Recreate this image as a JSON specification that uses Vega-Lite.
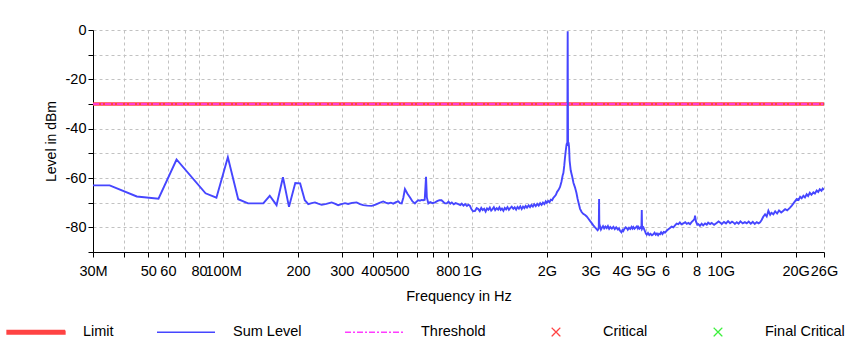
{
  "$schema": "https://vega.github.io/schema/vega-lite/v6.json",
  "width": 731,
  "height": 222,
  "autosize": {"type": "none"},
  "padding": {"left": 93, "top": 30, "right": 23, "bottom": 92},
  "background": "white",
  "config": {
    "view": {"stroke": null},
    "font": "Liberation Sans",
    "axis": {
      "domainColor": "black",
      "tickColor": "black",
      "labelColor": "black",
      "titleColor": "black",
      "labelFontSize": 14.5,
      "titleFontSize": 14.5,
      "titleFontWeight": "normal",
      "grid": true,
      "gridColor": "#c2c2c2",
      "gridDash": [3, 3],
      "gridWidth": 1,
      "tickSize": 5,
      "labelOverlap": false,
      "labelFlush": false,
      "labelBound": false
    }
  },
  "datasets": {
    "limit": [{"f": 30, "v": -30}, {"f": 26000, "v": -30}],
    "threshold": [{"f": 30, "v": -30}, {"f": 26000, "v": -30}],
    "sum": [
      {"f": 30, "v": -63}, {"f": 35, "v": -63}, {"f": 45, "v": -67.5}, {"f": 55, "v": -68.4},
      {"f": 65, "v": -52.5}, {"f": 85, "v": -66.2}, {"f": 94, "v": -68}, {"f": 104.5, "v": -51.6},
      {"f": 115, "v": -68.6}, {"f": 126, "v": -70.3}, {"f": 145, "v": -70.3}, {"f": 154, "v": -67.2},
      {"f": 164, "v": -71}, {"f": 174, "v": -59.7}, {"f": 184, "v": -71.7}, {"f": 195, "v": -62},
      {"f": 204, "v": -62.2}, {"f": 213, "v": -69}, {"f": 220, "v": -70.6}, {"f": 227, "v": -70.2},
      {"f": 234, "v": -69.9}, {"f": 241, "v": -70.4}, {"f": 249, "v": -70.9}, {"f": 260, "v": -70.5},
      {"f": 273, "v": -69.9}, {"f": 281, "v": -70.4}, {"f": 290, "v": -71}, {"f": 299, "v": -70.6},
      {"f": 309, "v": -70.2}, {"f": 318, "v": -70.5}, {"f": 330, "v": -70.1}, {"f": 344, "v": -69.9},
      {"f": 355, "v": -70.6}, {"f": 366, "v": -71}, {"f": 380, "v": -71.2}, {"f": 396, "v": -71.3},
      {"f": 410, "v": -70.8}, {"f": 425, "v": -70.1}, {"f": 440, "v": -69.5}, {"f": 450, "v": -70.0},
      {"f": 461, "v": -70.3}, {"f": 472, "v": -70.0}, {"f": 483, "v": -70.4}, {"f": 495, "v": -69.8},
      {"f": 506, "v": -69.5}, {"f": 514, "v": -70.2}, {"f": 522, "v": -70.3}, {"f": 530, "v": -68.0},
      {"f": 538, "v": -64.5}, {"f": 550, "v": -66.3}, {"f": 564, "v": -67.9}, {"f": 577, "v": -69.5},
      {"f": 590, "v": -70.3}, {"f": 600, "v": -69.5}, {"f": 609, "v": -69.0}, {"f": 618, "v": -69.2},
      {"f": 628, "v": -68.9}, {"f": 638, "v": -69.0}, {"f": 646, "v": -68.8}, {"f": 654, "v": -59.5},
      {"f": 659, "v": -67.9}, {"f": 668, "v": -70.3}, {"f": 680, "v": -69.8}, {"f": 695, "v": -70.2},
      {"f": 711, "v": -69.9}, {"f": 725, "v": -69.4}, {"f": 740, "v": -69.0}, {"f": 755, "v": -69.0},
      {"f": 770, "v": -69.8}, {"f": 780, "v": -70.3}, {"f": 792, "v": -70.3}, {"f": 805, "v": -69.6},
      {"f": 818, "v": -70.4}, {"f": 830, "v": -69.9}, {"f": 845, "v": -70.7}, {"f": 860, "v": -70.2},
      {"f": 882, "v": -70.6}, {"f": 898, "v": -71.0}, {"f": 910, "v": -70.4}, {"f": 925, "v": -71.2},
      {"f": 939, "v": -70.6}, {"f": 955, "v": -71.3}, {"f": 968, "v": -70.8}, {"f": 982, "v": -71.3},
      {"f": 995, "v": -72.6}, {"f": 1010, "v": -73.5}, {"f": 1030, "v": -73.3}, {"f": 1045, "v": -72.2},
      {"f": 1061, "v": -72.6}, {"f": 1075, "v": -73.4}, {"f": 1090, "v": -72.1}, {"f": 1105, "v": -73.0},
      {"f": 1120, "v": -72.5}, {"f": 1135, "v": -73.6}, {"f": 1150, "v": -72.3}, {"f": 1165, "v": -72.9},
      {"f": 1180, "v": -72.0}, {"f": 1195, "v": -73.2}, {"f": 1210, "v": -72.6}, {"f": 1225, "v": -71.8},
      {"f": 1240, "v": -73.0}, {"f": 1258, "v": -72.2}, {"f": 1275, "v": -72.8}, {"f": 1290, "v": -71.9},
      {"f": 1305, "v": -72.9}, {"f": 1320, "v": -72.4}, {"f": 1338, "v": -73.3}, {"f": 1355, "v": -72.1},
      {"f": 1372, "v": -72.7}, {"f": 1390, "v": -71.8}, {"f": 1408, "v": -72.9}, {"f": 1425, "v": -72.2},
      {"f": 1445, "v": -71.6}, {"f": 1467, "v": -72.5}, {"f": 1485, "v": -71.9}, {"f": 1505, "v": -72.8},
      {"f": 1525, "v": -71.7}, {"f": 1545, "v": -72.4}, {"f": 1565, "v": -71.5}, {"f": 1585, "v": -72.6},
      {"f": 1605, "v": -71.6}, {"f": 1625, "v": -72.2}, {"f": 1645, "v": -71.3}, {"f": 1665, "v": -72.0},
      {"f": 1690, "v": -71.1}, {"f": 1712, "v": -71.8}, {"f": 1735, "v": -70.9}, {"f": 1758, "v": -71.6},
      {"f": 1780, "v": -70.6}, {"f": 1805, "v": -71.4}, {"f": 1830, "v": -70.5}, {"f": 1855, "v": -71.2},
      {"f": 1880, "v": -70.2}, {"f": 1905, "v": -70.9}, {"f": 1930, "v": -70.0}, {"f": 1955, "v": -70.6},
      {"f": 1980, "v": -69.5}, {"f": 2000, "v": -70.1}, {"f": 2025, "v": -69.3}, {"f": 2050, "v": -69.8},
      {"f": 2075, "v": -68.8}, {"f": 2100, "v": -69.0}, {"f": 2125, "v": -68.0}, {"f": 2150, "v": -67.5},
      {"f": 2175, "v": -66.8}, {"f": 2200, "v": -65.6}, {"f": 2230, "v": -64.8}, {"f": 2260, "v": -63.6},
      {"f": 2290, "v": -61.5}, {"f": 2315, "v": -59.0}, {"f": 2331, "v": -58.0}, {"f": 2350, "v": -55.0},
      {"f": 2365, "v": -52.0}, {"f": 2383, "v": -48.9}, {"f": 2400, "v": -46.5}, {"f": 2410, "v": -45.8},
      {"f": 2418, "v": -47.0}, {"f": 2422, "v": -20}, {"f": 2426, "v": -0.5}, {"f": 2430, "v": -25},
      {"f": 2434, "v": -46.2}, {"f": 2445, "v": -45.5}, {"f": 2457, "v": -47.5}, {"f": 2470, "v": -53.0},
      {"f": 2495, "v": -57.0}, {"f": 2530, "v": -59.5}, {"f": 2560, "v": -62.0}, {"f": 2595, "v": -63.8},
      {"f": 2630, "v": -66.0}, {"f": 2660, "v": -68.5}, {"f": 2690, "v": -70.5}, {"f": 2720, "v": -72.5},
      {"f": 2760, "v": -73.8}, {"f": 2800, "v": -74.5}, {"f": 2850, "v": -75.0}, {"f": 2893, "v": -75.6},
      {"f": 2940, "v": -76.5}, {"f": 2983, "v": -77.4}, {"f": 3030, "v": -78.3}, {"f": 3075, "v": -79.2},
      {"f": 3125, "v": -80.0}, {"f": 3165, "v": -80.6}, {"f": 3200, "v": -81.2}, {"f": 3222, "v": -80.8},
      {"f": 3235, "v": -80.3}, {"f": 3244, "v": -68.5}, {"f": 3252, "v": -80.2}, {"f": 3273, "v": -79.6},
      {"f": 3300, "v": -80.9}, {"f": 3330, "v": -80.2}, {"f": 3365, "v": -79.5}, {"f": 3400, "v": -80.4},
      {"f": 3440, "v": -79.7}, {"f": 3481, "v": -80.3}, {"f": 3520, "v": -79.5}, {"f": 3560, "v": -80.6},
      {"f": 3600, "v": -79.9}, {"f": 3650, "v": -80.5}, {"f": 3702, "v": -79.8}, {"f": 3750, "v": -80.7},
      {"f": 3800, "v": -80.0}, {"f": 3860, "v": -80.9}, {"f": 3900, "v": -80.4}, {"f": 3939, "v": -81.4},
      {"f": 3990, "v": -82.0}, {"f": 4030, "v": -81.1}, {"f": 4059, "v": -81.5}, {"f": 4100, "v": -80.6},
      {"f": 4150, "v": -80.0}, {"f": 4188, "v": -80.3}, {"f": 4230, "v": -81.0}, {"f": 4280, "v": -80.2},
      {"f": 4330, "v": -80.7}, {"f": 4380, "v": -79.8}, {"f": 4420, "v": -80.5}, {"f": 4455, "v": -79.9},
      {"f": 4500, "v": -80.6}, {"f": 4550, "v": -80.1}, {"f": 4600, "v": -79.6}, {"f": 4640, "v": -80.4},
      {"f": 4665, "v": -79.8}, {"f": 4720, "v": -80.5}, {"f": 4770, "v": -79.9}, {"f": 4800, "v": -80.3},
      {"f": 4815, "v": -73.0}, {"f": 4830, "v": -80.6}, {"f": 4860, "v": -80.2}, {"f": 4887, "v": -80.0},
      {"f": 4930, "v": -80.9}, {"f": 4970, "v": -81.8}, {"f": 5000, "v": -82.5}, {"f": 5043, "v": -83.0},
      {"f": 5100, "v": -82.3}, {"f": 5160, "v": -83.1}, {"f": 5220, "v": -82.6}, {"f": 5290, "v": -83.2},
      {"f": 5359, "v": -82.8}, {"f": 5420, "v": -82.2}, {"f": 5480, "v": -83.0}, {"f": 5540, "v": -82.5},
      {"f": 5600, "v": -83.2}, {"f": 5650, "v": -82.6}, {"f": 5703, "v": -82.8}, {"f": 5760, "v": -82.0},
      {"f": 5830, "v": -82.7}, {"f": 5900, "v": -81.9}, {"f": 5973, "v": -82.1}, {"f": 6060, "v": -81.4},
      {"f": 6159, "v": -80.8}, {"f": 6250, "v": -80.3}, {"f": 6350, "v": -79.7}, {"f": 6451, "v": -80.0},
      {"f": 6550, "v": -79.2}, {"f": 6650, "v": -78.5}, {"f": 6756, "v": -78.7}, {"f": 6850, "v": -78.0},
      {"f": 6950, "v": -78.8}, {"f": 7076, "v": -78.4}, {"f": 7200, "v": -77.9}, {"f": 7300, "v": -78.6},
      {"f": 7420, "v": -78.2}, {"f": 7527, "v": -78.7}, {"f": 7650, "v": -77.8}, {"f": 7760, "v": -77.2},
      {"f": 7850, "v": -76.5}, {"f": 7883, "v": -75.3}, {"f": 7950, "v": -77.6}, {"f": 8050, "v": -78.9},
      {"f": 8131, "v": -78.7}, {"f": 8250, "v": -79.4}, {"f": 8380, "v": -78.5}, {"f": 8500, "v": -79.2},
      {"f": 8650, "v": -78.4}, {"f": 8788, "v": -78.9}, {"f": 8900, "v": -78.1}, {"f": 9061, "v": -78.7},
      {"f": 9200, "v": -78.2}, {"f": 9400, "v": -79.0}, {"f": 9600, "v": -78.3}, {"f": 9800, "v": -77.6},
      {"f": 9933, "v": -78.0}, {"f": 10100, "v": -78.6}, {"f": 10300, "v": -77.8}, {"f": 10500, "v": -78.4},
      {"f": 10700, "v": -77.5}, {"f": 10900, "v": -78.3}, {"f": 11100, "v": -77.7}, {"f": 11237, "v": -78.0},
      {"f": 11400, "v": -78.6}, {"f": 11600, "v": -77.9}, {"f": 11800, "v": -78.5}, {"f": 12000, "v": -77.6},
      {"f": 12250, "v": -78.4}, {"f": 12500, "v": -77.9}, {"f": 12724, "v": -78.4}, {"f": 12950, "v": -77.7},
      {"f": 13200, "v": -78.5}, {"f": 13450, "v": -77.8}, {"f": 13700, "v": -78.6}, {"f": 13950, "v": -77.9},
      {"f": 14200, "v": -78.4}, {"f": 14389, "v": -78.0}, {"f": 14600, "v": -77.0}, {"f": 14800, "v": -75.8},
      {"f": 15070, "v": -74.7}, {"f": 15300, "v": -75.6}, {"f": 15537, "v": -73.3}, {"f": 15800, "v": -74.9},
      {"f": 16000, "v": -74.1}, {"f": 16272, "v": -74.7}, {"f": 16550, "v": -73.5}, {"f": 16850, "v": -74.4},
      {"f": 17150, "v": -73.2}, {"f": 17500, "v": -74.0}, {"f": 17850, "v": -73.3}, {"f": 18150, "v": -72.6},
      {"f": 18500, "v": -73.1}, {"f": 18990, "v": -72.0}, {"f": 19300, "v": -71.2}, {"f": 19700, "v": -70.0},
      {"f": 20203, "v": -68.5}, {"f": 20550, "v": -68.9}, {"f": 20850, "v": -67.6}, {"f": 21150, "v": -68.2},
      {"f": 21480, "v": -67.2}, {"f": 21800, "v": -67.9}, {"f": 22150, "v": -66.6}, {"f": 22450, "v": -67.3},
      {"f": 22800, "v": -66.0}, {"f": 23150, "v": -66.8}, {"f": 23565, "v": -65.8}, {"f": 23900, "v": -66.3},
      {"f": 24300, "v": -65.1}, {"f": 24650, "v": -65.7}, {"f": 25000, "v": -64.6}, {"f": 25400, "v": -65.2},
      {"f": 25700, "v": -64.3}, {"f": 26000, "v": -64.8}
    ]
  },
  "encoding": {
    "x": {
      "field": "f",
      "type": "quantitative",
      "scale": {"type": "log", "domain": [30, 26000], "nice": false, "zero": false},
      "axis": {
        "title": "Frequency in Hz",
        "values": [30, 40, 50, 60, 70, 80, 100, 200, 300, 400, 500, 600, 700, 800, 1000, 2000, 3000, 4000, 5000, 6000, 7000, 8000, 10000, 20000, 26000],
        "labelExpr": "({'30':'30M','50':'50','60':'60','80':'80','100':'100M','200':'200','300':'300','400':'400','500':'500','800':'800','1000':'1G','2000':'2G','3000':'3G','4000':'4G','5000':'5G','6000':'6','8000':'8','10000':'10G','20000':'20G','26000':'26G'})[datum.value] || ''",
        "labelPadding": 7,
        "titlePadding": 12
      }
    },
    "y": {
      "field": "v",
      "type": "quantitative",
      "scale": {"domain": [-90, 0], "nice": false, "zero": false},
      "axis": {
        "title": "Level in dBm",
        "values": [-90, -80, -70, -60, -50, -40, -30, -20, -10, 0],
        "labelExpr": "datum.value % 20 == 0 ? '' + datum.value : ''",
        "labelPadding": 2,
        "titlePadding": 7,
        "titleFontSize": 14
      }
    }
  },
  "layer": [
    {
      "data": {"name": "limit"},
      "mark": {"type": "line", "strokeWidth": 3.5, "clip": true},
      "encoding": {
        "color": {
          "datum": "Limit",
          "type": "nominal",
          "scale": {
            "domain": ["Limit", "Sum Level", "Threshold", "Critical", "Final Critical"],
            "range": ["#ff4343", "#4646ff", "#ff3cff", "#ff4343", "#3cf03c"]
          },
          "legend": {
            "orient": "none",
            "legendX": -87,
            "legendY": 272,
            "direction": "horizontal",
            "columns": 5,
            "title": null,
            "padding": 0,
            "symbolSize": 3364,
            "symbolType": "stroke",
            "symbolStrokeWidth": 1.3,
            "labelFontSize": 14.5,
            "labelColor": "black",
            "labelOffset": 17,
            "columnPadding": 40,
            "encode": {
              "symbols": {
                "update": {
                  "shape": {"signal": "(datum.value == 'Critical' || datum.value == 'Final Critical') ? 'M-0.15,-0.15L0.15,0.15M-0.15,0.15L0.15,-0.15' : (datum.value == 'Limit' ? 'M-1,-0.06L1,-0.06L1,0.06L-1,0.06Z' : 'stroke')"},
                  "fill": {"signal": "datum.value == 'Limit' ? '#ff4343' : 'transparent'"},
                  "strokeDash": {"signal": "datum.value == 'Threshold' ? [6,2,2,2] : [1,0]"},
                  "opacity": {"value": 1}
                }
              }
            }
          }
        }
      }
    },
    {
      "data": {"name": "sum"},
      "mark": {"type": "line", "strokeWidth": 1.9, "clip": true},
      "encoding": {
        "color": {
          "datum": "Sum Level",
          "type": "nominal",
          "scale": {
            "domain": ["Limit", "Sum Level", "Threshold", "Critical", "Final Critical"],
            "range": ["#ff4343", "#4646ff", "#ff3cff", "#ff4343", "#3cf03c"]
          }
        }
      }
    },
    {
      "data": {"name": "threshold"},
      "mark": {"type": "line", "strokeWidth": 1.5, "strokeDash": [6, 2, 2, 2], "clip": true},
      "encoding": {
        "color": {
          "datum": "Threshold",
          "type": "nominal",
          "scale": {
            "domain": ["Limit", "Sum Level", "Threshold", "Critical", "Final Critical"],
            "range": ["#ff4343", "#4646ff", "#ff3cff", "#ff4343", "#3cf03c"]
          }
        }
      }
    }
  ]
}
